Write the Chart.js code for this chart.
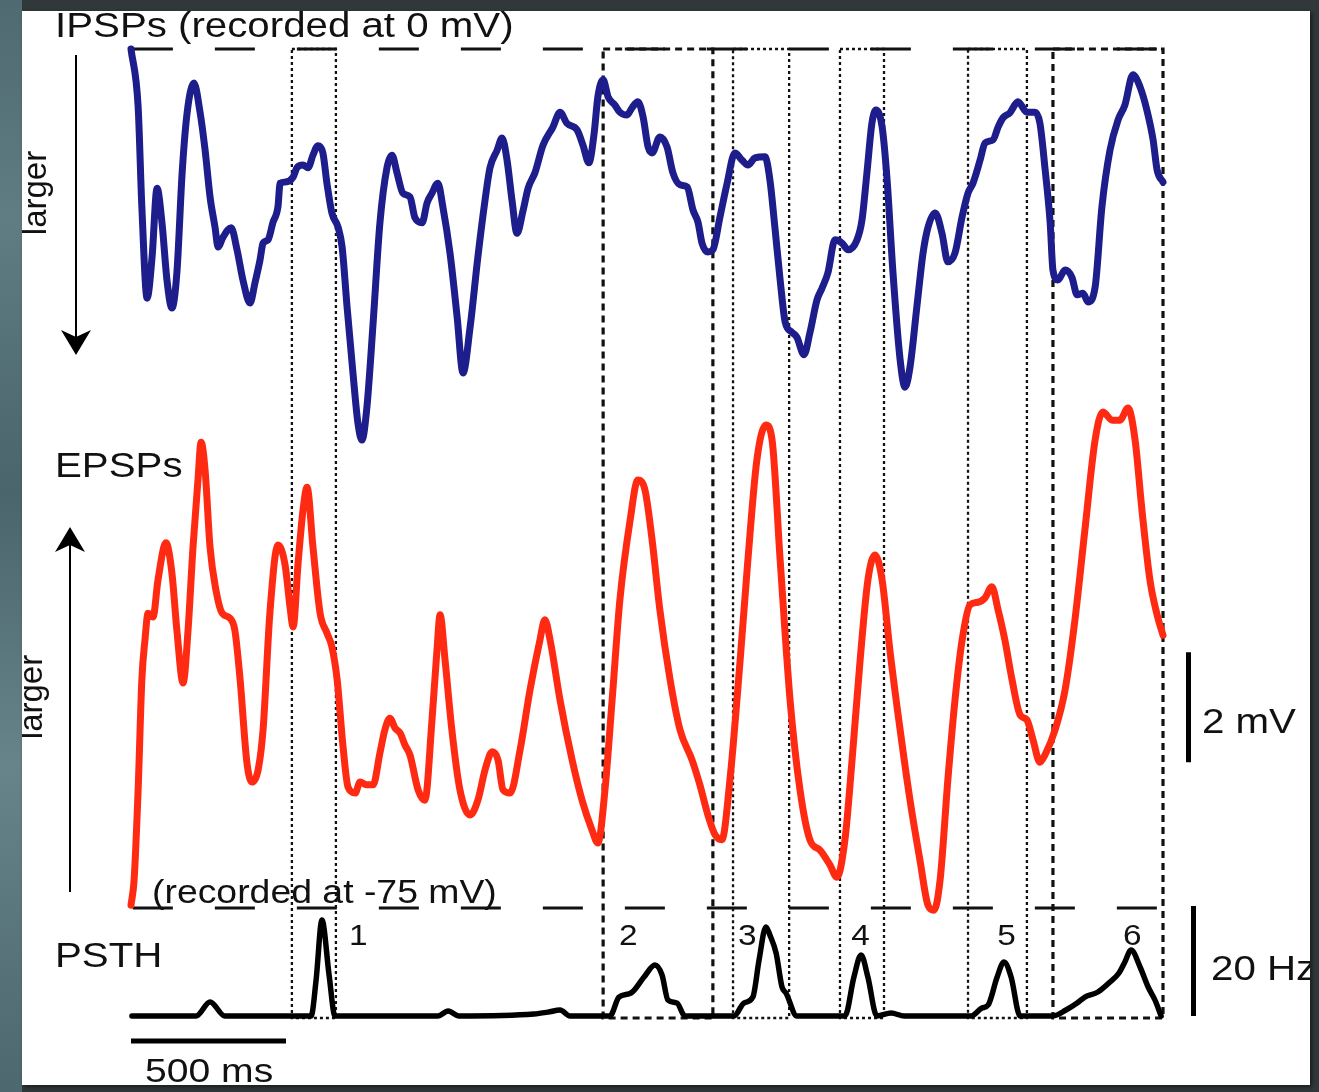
<!DOCTYPE html>
<html>
<head>
<meta charset="utf-8">
<title>IPSPs, EPSPs and PSTH</title>
<script src="https://cdn.jsdelivr.net/npm/chart.js@4.4.1/dist/chart.umd.min.js"></script>
<style>
  html, body { margin: 0; padding: 0; width: 1319px; height: 1092px; overflow: hidden; background: #30383a; }
  #edgeLeft { position: absolute; left: 0; top: 0; width: 22px; height: 1092px;
    background: linear-gradient(180deg, #4f6a70 0%, #5f7d83 20%, #4a656b 45%, #66848a 70%, #4d686e 100%); }
  #panel { position: absolute; left: 22px; top: 11px; width: 1288px; height: 1074px; background: #fff;
    box-shadow: 2px 2px 4px rgba(0,0,0,0.5); }
  #wrap { position: absolute; left: 0; top: 0; width: 1319px; height: 1092px; }
</style>
</head>
<body>
<div id="edgeLeft"></div>
<div id="panel"></div>
<div id="wrap"><canvas id="traces" width="1319" height="1092"></canvas></div>
<script>
// IPSPs recorded at 0 mV (deflection from baseline, mV)
const ipspTime = [0, 23, 35, 52, 68, 84, 100, 116, 132, 148, 165, 181, 203, 223, 239, 255, 271, 281, 297, 323,
  342, 361, 384, 400, 416, 426, 442, 458, 474, 481, 497, 523, 535, 555, 571, 587, 603, 619, 632, 648,
  668, 681, 697, 716, 732, 745, 761, 781, 803, 826, 842, 858, 877, 900, 916, 939, 955, 971, 990, 1006,
  1029, 1052, 1071, 1094, 1119, 1142, 1158, 1181, 1197, 1213, 1229, 1245, 1265, 1281, 1303, 1329, 1361, 1384, 1406, 1439,
  1458, 1477, 1494, 1506, 1523, 1539, 1561, 1577, 1600, 1616, 1635, 1652, 1668, 1681, 1706, 1729, 1748, 1771, 1794, 1813,
  1829, 1842, 1861, 1877, 1900, 1923, 1948, 1971, 1990, 2013, 2045, 2061, 2077, 2094, 2110, 2132, 2148, 2171, 2190, 2213,
  2229, 2248, 2271, 2294, 2313, 2342, 2358, 2374, 2390, 2403, 2423, 2439, 2458, 2481, 2497, 2513, 2535, 2555, 2571, 2594,
  2616, 2635, 2658, 2681, 2700, 2716, 2739, 2755, 2781, 2797, 2813, 2835, 2861, 2890, 2916, 2932, 2948, 2965, 2974, 2990,
  3013, 3035, 3052, 3071, 3087, 3110, 3132, 3158, 3184, 3206, 3232, 3255, 3277, 3297, 3310, 3329];
const ipspMv = [0, -1.05, -2.87, -4.53, -3.78, -2.53, -3.16, -4.2, -4.71, -4.07, -2.25, -1.16, -0.62, -1.16, -1.84, -2.69, -3.24, -3.6, -3.42, -3.25,
  -3.65, -4.2, -4.62, -4.25, -3.84, -3.53, -3.47, -3.15, -2.87, -2.44, -2.42, -2.33, -2.16, -2.11, -2.16, -1.93, -1.76, -1.89, -2.44, -2.98,
  -3.24, -3.6, -4.69, -5.89, -6.8, -7.11, -6.51, -4.98, -3.16, -2.15, -1.93, -2.25, -2.62, -2.69, -3.07, -3.16, -2.8, -2.62, -2.44, -2.87,
  -3.71, -4.87, -5.89, -5.05, -3.78, -2.75, -2.16, -1.84, -1.62, -2.02, -2.75, -3.35, -2.93, -2.53, -2.25, -1.75, -1.42, -1.15, -1.35, -1.47,
  -1.75, -2.07, -1.53, -0.87, -0.56, -0.87, -1.02, -1.15, -1.2, -1.07, -0.96, -1.24, -1.78, -1.89, -1.6, -1.78, -2.25, -2.47, -2.51, -2.93,
  -3.15, -3.53, -3.69, -3.65, -3.05, -2.44, -1.89, -2.02, -2.11, -1.98, -1.96, -2.38, -3.24, -4.2, -4.96, -5.15, -5.24, -5.56, -5.16, -4.56,
  -4.35, -4.07, -3.47, -3.53, -3.65, -3.47, -3.11, -2.25, -1.35, -1.11, -1.42, -2.38, -4.07, -5.65, -6.15, -5.78, -4.69, -3.71, -3.24, -2.98,
  -3.35, -3.87, -3.71, -3.05, -2.62, -2.44, -2.02, -1.71, -1.65, -1.42, -1.25, -1.16, -0.96, -1.15, -1.15, -1.35, -2.15, -3.16, -4.02, -4.2,
  -4.02, -4.15, -4.47, -4.44, -4.6, -4.33, -2.87, -1.84, -1.29, -1.02, -0.47, -0.69, -1.11, -1.65, -2.2, -2.42];

// EPSPs recorded at -75 mV (mV above baseline)
const epspTime = [0, 10, 23, 35, 45, 55, 71, 87, 113, 132, 148, 168, 184, 200, 216, 226, 239, 255, 274, 294,
  319, 335, 352, 374, 390, 410, 426, 448, 474, 497, 513, 523, 539, 555, 568, 587, 610, 632, 648, 665,
  684, 700, 723, 739, 761, 781, 803, 819, 835, 852, 868, 884, 900, 926, 948, 971, 987, 997, 1013, 1035,
  1061, 1094, 1119, 1142, 1165, 1184, 1200, 1223, 1255, 1287, 1319, 1335, 1352, 1384, 1423, 1455, 1487, 1506, 1529, 1552,
  1577, 1610, 1635, 1658, 1681, 1706, 1739, 1771, 1810, 1835, 1861, 1884, 1906, 1932, 1965, 1990, 2019, 2048, 2068, 2094,
  2126, 2158, 2190, 2223, 2255, 2277, 2303, 2326, 2352, 2377, 2400, 2423, 2448, 2481, 2513, 2545, 2571, 2590, 2610, 2635,
  2658, 2681, 2706, 2732, 2755, 2777, 2797, 2819, 2842, 2868, 2890, 2910, 2932, 2948, 2981, 3013, 3045, 3077, 3110, 3135,
  3165, 3190, 3216, 3239, 3261, 3287, 3310, 3329];
const epspMv = [0.05, 0.51, 2.15, 4.15, 4.87, 5.36, 5.29, 5.96, 6.64, 6.09, 5.05, 4.09, 5.05, 6.56, 7.78, 8.47, 7.96, 6.56, 5.78, 5.36,
  5.27, 5.05, 4.15, 2.64, 2.29, 2.51, 3.24, 5.36, 6.6, 6.24, 5.47, 5.11, 6.27, 7.24, 7.65, 6.56, 5.36, 5.0, 4.75, 4.15,
  2.93, 2.2, 2.09, 2.29, 2.24, 2.24, 2.82, 3.24, 3.45, 3.27, 3.18, 2.96, 2.78, 2.15, 1.96, 3.42, 4.69, 5.33, 4.51, 3.24,
  2.15, 1.69, 1.96, 2.51, 2.84, 2.69, 2.15, 2.09, 2.87, 3.96, 4.87, 5.24, 4.87, 3.78, 2.69, 1.96, 1.42, 1.18, 2.15, 3.78,
  5.6, 7.05, 7.78, 7.6, 6.69, 5.42, 4.15, 3.24, 2.69, 2.24, 1.69, 1.33, 1.24, 2.33, 4.51, 6.33, 8.15, 8.78, 8.51, 6.33,
  3.78, 2.15, 1.24, 1.05, 0.78, 0.56, 1.24, 2.69, 4.51, 5.96, 6.42, 5.96, 4.69, 3.24, 1.96, 0.87, 0.05, -0.04, 0.51, 2.33,
  3.78, 4.87, 5.51, 5.56, 5.64, 5.84, 5.42, 4.87, 4.15, 3.51, 3.42, 3.05, 2.65, 2.78, 3.24, 3.96, 5.24, 6.87, 8.51, 9.02,
  8.87, 8.87, 9.09, 8.51, 7.24, 5.96, 5.33, 4.96];

// Peri-stimulus time histogram (Hz)
const psthTime = [3, 210, 255, 303, 581, 597, 616, 639, 658, 990, 1023, 1058, 1300, 1345, 1384, 1416, 1545, 1574, 1613, 1655,
  1690, 1713, 1732, 1761, 1787, 1945, 1977, 2006, 2026, 2048, 2061, 2081, 2100, 2113, 2148, 2303, 2332, 2355, 2377, 2406,
  2452, 2494, 2710, 2745, 2765, 2794, 2816, 2839, 2868, 2974, 3016, 3052, 3077, 3119, 3158, 3187, 3206, 3226, 3255, 3281,
  3303, 3323];
const psthHz = [0, 0, 2.55, 0, 0, 6.5, 17.45, 7.45, 0, 0, 0.9, 0, 0.36, 0.7, 1.09, 0, 0, 3.45, 4.18, 7.09,
  9.27, 7.45, 2.9, 2.36, 0, 0, 2.36, 3.45, 10.18, 16.18, 14.7, 11.45, 5.27, 4.18, 0, 0, 7.09, 11.09, 7.09, 0,
  0.55, 0, 0, 1.45, 2.0, 7.09, 9.82, 7.09, 0, 0, 1.09, 2.36, 3.45, 4.36, 6.18, 7.82, 9.82, 12.0, 8.91, 5.27,
  2.91, 0];

// analysis windows (ms) and which ones get the heavy dashed outline
const windowStart = [519, 1523, 1942, 2287, 2700, 2974];
const windowEnd = [661, 1877, 2123, 2429, 2890, 3329];
const windowHeavy = [false, true, false, false, false, true];
const windowLabels = ['1', '2', '3', '4', '5', '6'];
const windowLabelTime = [703, 1574, 1958, 2323, 2794, 3200];

const toPoints = (xs, ys) => xs.map((x, i) => ({ x: x, y: ys[i] }));

const FONT = '"Liberation Sans", Arial, Helvetica, sans-serif';
const STRETCH = 1.15;

function wideText(ctx, txt, x, y, size) {
    ctx.save();
    ctx.translate(x, y);
    ctx.scale(STRETCH, 1);
    ctx.font = size + 'px ' + FONT;
    ctx.fillStyle = '#111';
    ctx.textBaseline = 'alphabetic';
    ctx.fillText(txt, 0, 0);
    ctx.restore();
}

function arrow(ctx, x, y0, y1) {
    // shaft from y0 to the tip at y1
    const dir = y1 > y0 ? 1 : -1;
    ctx.save();
    ctx.strokeStyle = '#000';
    ctx.fillStyle = '#000';
    ctx.lineWidth = 2;
    ctx.beginPath();
    ctx.moveTo(x, y0);
    ctx.lineTo(x, y1 - dir * 18);
    ctx.stroke();
    ctx.beginPath();
    ctx.moveTo(x, y1);
    ctx.lineTo(x - 15, y1 - dir * 25);
    ctx.lineTo(x, y1 - dir * 18);
    ctx.lineTo(x + 15, y1 - dir * 25);
    ctx.closePath();
    ctx.fill();
    ctx.restore();
}

const decor = {
    id: 'decor',
    beforeDatasetsDraw(chart) {
        const ctx = chart.ctx;
        const xs = chart.scales.x, yI = chart.scales.yI, yE = chart.scales.yE;
        const top = chart.chartArea.top, bottom = chart.chartArea.bottom;
        ctx.save();
        // baselines
        ctx.strokeStyle = '#111';
        ctx.lineWidth = 3;
        ctx.setLineDash([40, 42]);
        [yI.getPixelForValue(0), yE.getPixelForValue(0)].forEach(y => {
            ctx.beginPath();
            ctx.moveTo(xs.getPixelForValue(6), y);
            ctx.lineTo(xs.getPixelForValue(3329), y);
            ctx.stroke();
        });
        // window outlines
        windowStart.forEach((t0, i) => {
            const x0 = xs.getPixelForValue(t0), x1 = xs.getPixelForValue(windowEnd[i]);
            if (windowHeavy[i]) {
                ctx.lineWidth = 3.2;
                ctx.setLineDash([7, 5]);
            } else {
                ctx.lineWidth = 2.3;
                ctx.setLineDash([3, 3]);
            }
            ctx.strokeStyle = '#111';
            ctx.strokeRect(x0, top, x1 - x0, bottom - top);
        });
        ctx.restore();
    },
    afterDatasetsDraw(chart) {
        const ctx = chart.ctx;
        const xs = chart.scales.x, yE = chart.scales.yE, yP = chart.scales.yP;
        const bottom = chart.chartArea.bottom;
        ctx.save();
        // keep labels inside the white panel
        ctx.beginPath();
        ctx.rect(22, 11, 1288, 1074);
        ctx.clip();
        ctx.fillStyle = '#000';
        // 500 ms bar
        const barY = bottom + 23;
        ctx.fillRect(xs.getPixelForValue(0), barY - 2.5, xs.getPixelForValue(500) - xs.getPixelForValue(0), 5);
        // 2 mV bar
        const mvTop = yE.getPixelForValue(4.65), mvBot = yE.getPixelForValue(2.65);
        ctx.fillRect(1186, mvTop, 5, mvBot - mvTop);
        // 20 Hz bar
        const hzTop = yP.getPixelForValue(20), hzBot = yP.getPixelForValue(0);
        ctx.fillRect(1191, hzTop, 5, hzBot - hzTop);

        // window numbers
        windowLabels.forEach((lab, i) => {
            wideText(ctx, lab, xs.getPixelForValue(windowLabelTime[i]), 945, 29);
        });

        wideText(ctx, 'IPSPs (recorded at 0 mV)', 55, 37, 35);
        wideText(ctx, 'EPSPs', 55, 477, 35);
        wideText(ctx, 'PSTH', 55, 967, 35);
        wideText(ctx, '(recorded at -75 mV)', 152, 903, 32.5);
        wideText(ctx, '500 ms', 145, 1082, 34);
        wideText(ctx, '2 mV', 1202, 733, 35);
        wideText(ctx, '20 Hz', 1211, 980, 35);

        // "larger" labels beside the arrows
        ['larger', 'larger'].forEach((txt, i) => {
            ctx.save();
            ctx.translate(i === 0 ? 37 : 33, i === 0 ? 193 : 697);
            ctx.rotate(-Math.PI / 2);
            ctx.font = '33px ' + FONT;
            ctx.fillStyle = '#111';
            ctx.textAlign = 'center';
            ctx.textBaseline = 'middle';
            ctx.fillText(txt, 0, 0);
            ctx.restore();
        });

        arrow(ctx, 76, 55, 355);
        arrow(ctx, 70, 892, 527);
        ctx.restore();
    }
};

const traceStyle = {
    pointRadius: 0,
    fill: false,
    cubicInterpolationMode: 'monotone',
    borderJoinStyle: 'round',
    borderCapStyle: 'round',
    clip: false
};

new Chart(document.getElementById('traces').getContext('2d'), {
    type: 'line',
    data: {
        datasets: [
            Object.assign({ label: 'IPSPs', data: toPoints(ipspTime, ipspMv), yAxisID: 'yI',
                borderColor: '#1d1d8c', borderWidth: 7 }, traceStyle),
            Object.assign({ label: 'EPSPs', data: toPoints(epspTime, epspMv), yAxisID: 'yE',
                borderColor: '#ff2a12', borderWidth: 7 }, traceStyle),
            Object.assign({ label: 'PSTH', data: toPoints(psthTime, psthHz), yAxisID: 'yP',
                borderColor: '#000', borderWidth: 5.5 }, traceStyle)
        ]
    },
    options: {
        responsive: false,
        animation: false,
        devicePixelRatio: 1,
        layout: { padding: { left: 131, right: 156, top: 49, bottom: 74 } },
        plugins: { legend: { display: false }, tooltip: { enabled: false }, title: { display: false } },
        scales: {
            x: { type: 'linear', min: 0, max: 3329, display: false },
            yI: { type: 'linear', min: -17.618, max: 0, display: false },
            yE: { type: 'linear', min: -2, max: 15.618, display: false },
            yP: { type: 'linear', min: -0.3636, max: 175.82, display: false }
        }
    },
    plugins: [decor]
});
</script>
</body>
</html>
